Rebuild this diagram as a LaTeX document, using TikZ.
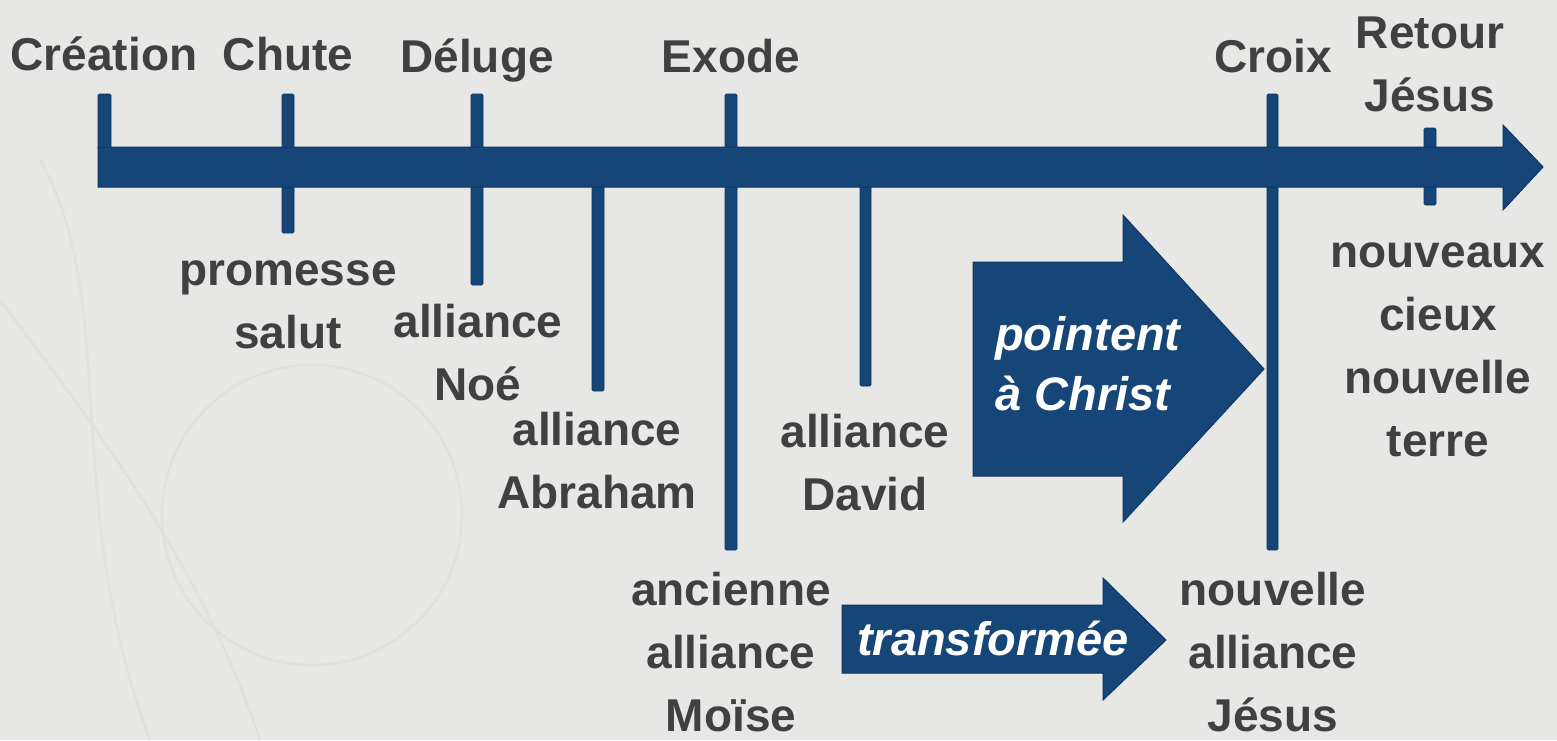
\documentclass[tikz,border=0pt]{standalone}
\usepackage{fontspec}
\setmainfont{Liberation Sans}
\definecolor{bgcol}{HTML}{E7E7E5}
\definecolor{navy}{HTML}{164677}
\definecolor{navydark}{HTML}{0E3560}
\definecolor{txtgray}{HTML}{404040}
\definecolor{swirl}{HTML}{E0E0DE}
\begin{document}
\begin{tikzpicture}[x=1pt,y=-1pt,
  tickbar/.style={fill=navy, draw=navydark, line width=0.8pt, rounded corners=1.5pt},
  bigarrow/.style={fill=navy, draw=navydark, line width=1pt, line join=miter},
  lbl/.style={anchor=north, inner sep=0pt, align=center, text=txtgray,
    font=\fontsize{46}{63}\selectfont\bfseries, execute at begin node={\rule{0pt}{36pt}}},
  arrowtxt/.style={inner sep=0pt, text=white,
    font=\fontsize{47}{60}\selectfont\bfseries\itshape}]
\useasboundingbox (0,0) rectangle (1557,740);
\fill[bgcol] (0,0) rectangle (1557,740);
% faint background swirls
\draw[swirl, line width=2.5pt] (312,515) circle (150);
\draw[swirl, line width=2.5pt] (40,160) .. controls (120,300) and (60,500) .. (150,740);
\draw[swirl, line width=2.5pt] (0,300) .. controls (90,420) and (200,560) .. (260,740);
% ticks
\draw[tickbar] (98,94) rectangle (111,150);
\draw[tickbar] (282,94) rectangle (294,233);
\draw[tickbar] (471,94) rectangle (483,285);
\draw[tickbar] (592,184) rectangle (604,391);
\draw[tickbar] (725,94) rectangle (737,550);
\draw[tickbar] (860,184) rectangle (871,386);
\draw[tickbar] (1267,94) rectangle (1278,550);
\draw[tickbar] (1424,128) rectangle (1436,205);
% main timeline arrow
\draw[bigarrow] (98,147) -- (1503,147) -- (1503,125) -- (1543,167) -- (1503,210) -- (1503,187) -- (98,187) -- cycle;
% pointent a Christ arrow
\draw[bigarrow] (973,262) -- (1123,262) -- (1123,215) -- (1264,369) -- (1123,522) -- (1123,476) -- (973,476) -- cycle;
\node[arrowtxt, anchor=base west, align=left] (pointent) at (995,410) {pointent\\à Christ};
% transformee arrow
\draw[bigarrow] (842,605) -- (1103,605) -- (1103,578) -- (1166,640) -- (1103,700) -- (1103,673) -- (842,673) -- cycle;
\node[arrowtxt, anchor=base] (transf) at (993,655) {transformée};
% top labels
\node[lbl] (creation) at (104,34) {Création};
\node[lbl] (chute) at (288,34) {Chute};
\node[lbl] (deluge) at (477,36) {Déluge};
\node[lbl] (exode) at (731,36) {Exode};
\node[lbl] (croix) at (1273,36) {Croix};
\node[lbl] (retour) at (1430,17) {Retour\\Jésus};
% bottom labels
\node[lbl] (promesse) at (288,260) {promesse\\salut};
\node[lbl] (noe) at (478,304) {alliance\\Noé};
\node[lbl] (abraham) at (597,412) {alliance\\Abraham};
\node[lbl] (david) at (865,414) {alliance\\David};
\node[lbl] (moise) at (731,572) {ancienne\\alliance\\Moïse};
\node[lbl] (jesus) at (1273,572) {nouvelle\\alliance\\Jésus};
\node[lbl] (cieux) at (1438,243) {nouveaux\\cieux\\nouvelle\\terre};
\end{tikzpicture}
\end{document}
